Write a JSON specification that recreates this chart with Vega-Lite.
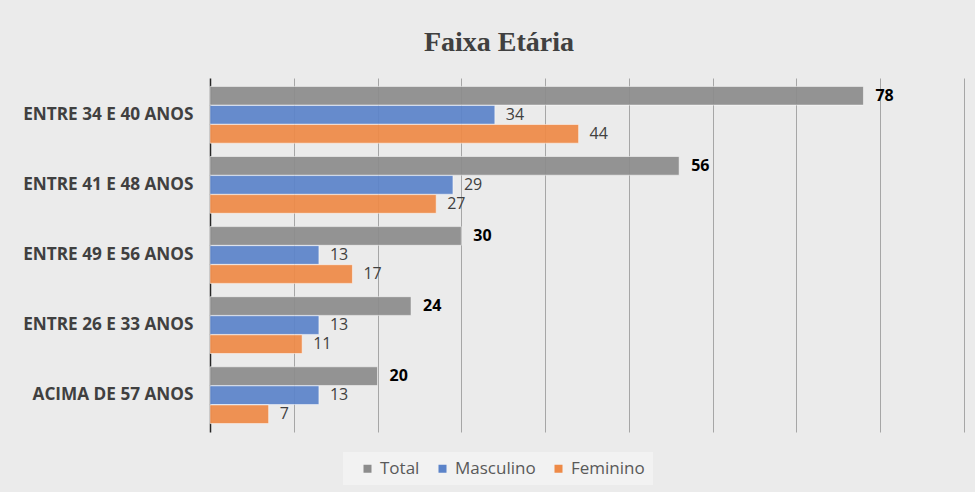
{
  "$schema": "https://vega.github.io/schema/vega-lite/v6.json",
  "autosize": {"type": "none"},
  "width": 754,
  "height": 354,
  "padding": {"left": 210, "top": 78, "right": 11, "bottom": 60},
  "background": "#ebebeb",
  "title": {
    "text": "Faixa Etária",
    "font": "Liberation Serif",
    "fontSize": 28,
    "fontWeight": "bold",
    "color": "#404040",
    "anchor": "middle",
    "dx": -88,
    "offset": 21
  },
  "data": {
    "values": [
      {"faixa": "ENTRE 34 E 40 ANOS", "serie": "Total", "valor": 78},
      {"faixa": "ENTRE 34 E 40 ANOS", "serie": "Masculino", "valor": 34},
      {"faixa": "ENTRE 34 E 40 ANOS", "serie": "Feminino", "valor": 44},
      {"faixa": "ENTRE 41 E 48 ANOS", "serie": "Total", "valor": 56},
      {"faixa": "ENTRE 41 E 48 ANOS", "serie": "Masculino", "valor": 29},
      {"faixa": "ENTRE 41 E 48 ANOS", "serie": "Feminino", "valor": 27},
      {"faixa": "ENTRE 49 E 56 ANOS", "serie": "Total", "valor": 30},
      {"faixa": "ENTRE 49 E 56 ANOS", "serie": "Masculino", "valor": 13},
      {"faixa": "ENTRE 49 E 56 ANOS", "serie": "Feminino", "valor": 17},
      {"faixa": "ENTRE 26 E 33 ANOS", "serie": "Total", "valor": 24},
      {"faixa": "ENTRE 26 E 33 ANOS", "serie": "Masculino", "valor": 13},
      {"faixa": "ENTRE 26 E 33 ANOS", "serie": "Feminino", "valor": 11},
      {"faixa": "ACIMA DE 57 ANOS", "serie": "Total", "valor": 20},
      {"faixa": "ACIMA DE 57 ANOS", "serie": "Masculino", "valor": 13},
      {"faixa": "ACIMA DE 57 ANOS", "serie": "Feminino", "valor": 7}
    ]
  },
  "encoding": {
    "y": {
      "field": "faixa",
      "type": "nominal",
      "sort": ["ENTRE 34 E 40 ANOS", "ENTRE 41 E 48 ANOS", "ENTRE 49 E 56 ANOS", "ENTRE 26 E 33 ANOS", "ACIMA DE 57 ANOS"],
      "scale": {"paddingInner": 0.19, "paddingOuter": 0.12},
      "axis": {
        "title": null,
        "domain": true,
        "domainColor": "#262626",
        "domainWidth": 1.5,
        "ticks": false,
        "labelFont": "Open Sans",
        "labelFontSize": 17.2,
        "labelFontWeight": "bold",
        "labelColor": "#404040",
        "labelPadding": 17,
        "grid": false
      }
    },
    "yOffset": {
      "field": "serie",
      "type": "nominal",
      "sort": ["Total", "Masculino", "Feminino"],
      "scale": {"paddingInner": 0.02}
    },
    "x": {
      "field": "valor",
      "type": "quantitative",
      "scale": {"domain": [0, 90], "nice": false},
      "axis": {
        "title": null,
        "labels": false,
        "ticks": false,
        "domain": false,
        "grid": true,
        "gridColor": "#a6a6a6",
        "gridWidth": 1,
        "values": [10, 20, 30, 40, 50, 60, 70, 80, 90]
      }
    }
  },
  "layer": [
    {
      "mark": {"type": "bar", "fillOpacity": 0.93, "stroke": "#ffffff", "strokeWidth": 1, "strokeOpacity": 0.5},
      "encoding": {
        "color": {
          "field": "serie",
          "type": "nominal",
          "sort": ["Total", "Masculino", "Feminino"],
          "scale": {"domain": ["Total", "Masculino", "Feminino"], "range": ["#8c8c8c", "#5b83c9", "#ee8a47"]},
          "legend": {
            "title": null,
            "orient": "none",
            "direction": "horizontal",
            "legendX": 133,
            "legendY": 374,
            "fillColor": "#f2f2f2",
            "padding": 8,
            "symbolType": "square",
            "symbolSize": 64,
            "symbolStrokeWidth": 0,
            "symbolOffset": 8,
            "labelOffset": 4,
            "labelFont": "Open Sans",
            "labelFontSize": 17,
            "labelColor": "#595959",
            "columnPadding": 6
          }
        }
      }
    },
    {
      "transform": [{"filter": "datum.serie === 'Total'"}],
      "mark": {"type": "text", "align": "left", "baseline": "middle", "dx": 12, "font": "Open Sans", "fontSize": 16, "fontWeight": "bold", "color": "#000000"},
      "encoding": {"text": {"field": "valor", "type": "quantitative"}}
    },
    {
      "transform": [{"filter": "datum.serie !== 'Total'"}],
      "mark": {"type": "text", "align": "left", "baseline": "middle", "dx": 11, "font": "Open Sans", "fontSize": 16, "color": "#404040"},
      "encoding": {"text": {"field": "valor", "type": "quantitative"}}
    }
  ],
  "config": {"view": {"stroke": null}}
}
